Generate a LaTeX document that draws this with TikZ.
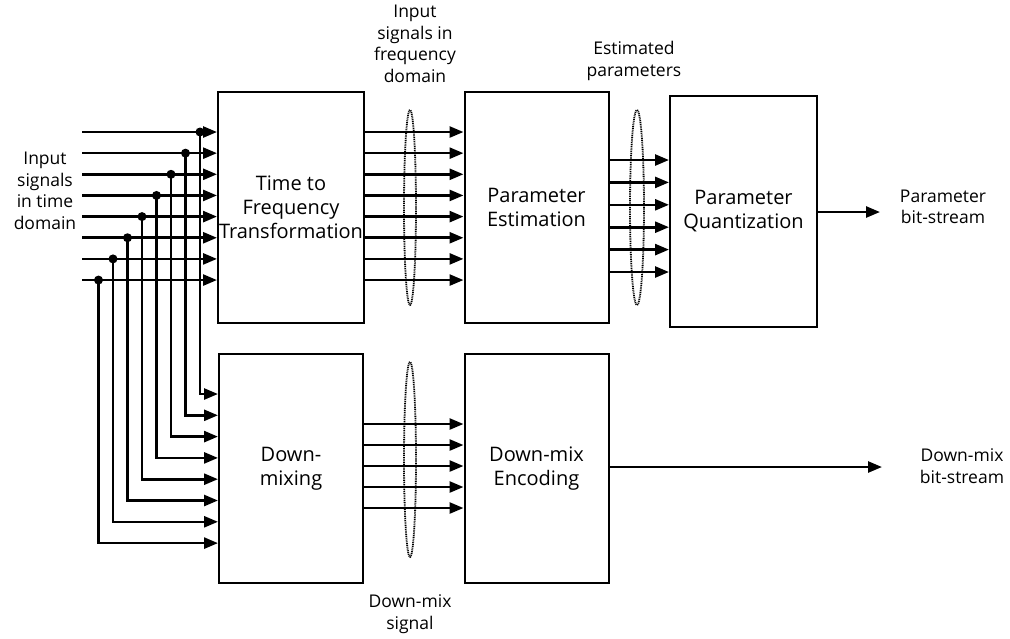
\documentclass[tikz,border=0pt]{standalone}
\usepackage{fontspec}
\setmainfont{Open Sans}
\usetikzlibrary{arrows.meta}

\begin{document}
\begin{tikzpicture}[
  x=1pt, y=-1pt,
  every node/.style={inner sep=1pt},
  block/.style={draw, line width=2pt, minimum width=144pt, minimum height=231pt,
    align=center, font=\fontsize{20}{24}\selectfont},
  lbl/.style={align=center, font=\fontsize{17.5}{21.5}\selectfont},
  % signal lines: plain wire, and wire ending in a filled triangle
  arrow/.style={draw, line width=2.6pt, -{Triangle[length=14pt,width=11pt]}},
  tap/.style={circle, fill=black, minimum size=9pt, inner sep=0pt},
  bundle/.style={draw, line width=1.8pt, dash pattern=on 1pt off 0.8pt}]

  \useasboundingbox (0,0) rectangle (1010,638);

  % blocks
  \node[block] (tf) at (291,207.5) {Time to\\Frequency\\Transformation};
  \node[block] (pe) at (536.5,207.5) {Parameter\\Estimation};
  \node[block, minimum width=147pt] (pq) at (743.5,211) {Parameter\\Quantization};
  \node[block, minimum height=229pt] (dm) at (291,468.5) {Down-\\mixing};
  \node[block, minimum height=229pt] (de) at (536.5,468.5) {Down-mix\\Encoding};

  % input signals, each tapped down to the down-mixer
  \foreach \i in {0,...,7} {
    \pgfmathsetmacro\yt{132+21.15*\i}
    \pgfmathsetmacro\xd{200-14.5*\i}
    \pgfmathsetmacro\yb{394+21.3*\i}
    \coordinate (in\i) at (82,\yt);
    \coordinate (bend\i) at (\xd,\yb);
    \node[tap] (tap\i) at (\xd,\yt) {};
    \draw[arrow] (in\i) -- (tf.west |- in\i);
    \draw[arrow] (tap\i.center) -- (bend\i) -- (dm.west |- bend\i);
    \draw[arrow] (tf.east |- in\i) -- (pe.west |- in\i);
  }

  % estimated parameters
  \foreach \i in {0,...,5} {
    \coordinate (par\i) at (0,160+22.4*\i);
    \draw[arrow] (pe.east |- par\i) -- (pq.west |- par\i);
  }

  % down-mix signal
  \foreach \i in {0,...,4} {
    \coordinate (mix\i) at (0,424+21*\i);
    \draw[arrow] (dm.east |- mix\i) -- (de.west |- mix\i);
  }

  % outputs
  \coordinate (pout) at (880,212);
  \coordinate (dout) at (882,467);
  \draw[arrow] (pq.east |- pout) -- (pout);
  \draw[arrow] (de.east |- dout) -- (dout);

  % bundles
  \draw[bundle] (410,207.5) ellipse (6 and 97.5);
  \draw[bundle] (637,207.5) ellipse (7 and 97.5);
  \draw[bundle] (410,459.5) ellipse (6 and 97.5);

  % labels
  \node[lbl] (lin)   at (45,191)  {Input\\signals\\in time\\domain};
  \node[lbl] (lfreq) at (415,44)  {Input\\signals in\\frequency\\domain};
  \node[lbl] (lest)  at (634,61)  {Estimated\\parameters};
  \node[lbl] (lpbs)  at (943,207) {Parameter\\bit-stream};
  \node[lbl] (ldbs)  at (962,466) {Down-mix\\bit-stream};
  \node[lbl] (lsig)  at (410,614) {Down-mix\\signal};
\end{tikzpicture}
\end{document}
